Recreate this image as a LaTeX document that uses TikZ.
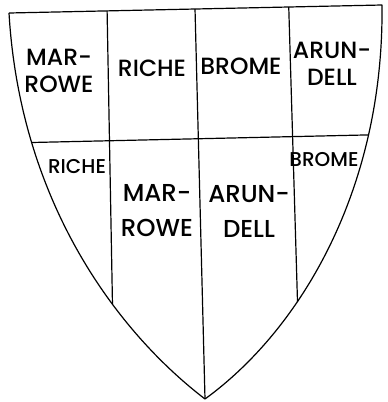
\documentclass[tikz,border=0pt]{standalone}
\usepackage{fontspec}
\setmainfont{Poppins}
\newfontfamily\khienfont{Poppins Medium}
\usetikzlibrary{positioning}

\begin{document}
\begin{tikzpicture}[x=1pt, y=-1pt, line width=1.2pt,
    tenvua/.style={font=\khienfont\fontsize{23.5}{27}\selectfont, align=center, inner sep=0pt},
    tennho/.style={font=\khienfont\fontsize{20}{23}\selectfont, align=center, inner sep=0pt},
    tenlon/.style={font=\khienfont\fontsize{24.5}{35}\selectfont, align=center, inner sep=0pt}]
    \useasboundingbox (0,0) rectangle (388,402);
    % Các đỉnh của khiên
    \coordinate (tl) at (9,13);
    \coordinate (tr) at (382,5);
    \coordinate (tip) at (205,399);

    % Vẽ viền khiên
    \draw[line join=round]
        (tl) -- (tr) coordinate[pos=0.263] (t1) coordinate[pos=0.4987] (t2) coordinate[pos=0.75] (t3)
        .. controls (384,190) and (300,330) .. (tip) coordinate[pos=0.25] (rmid) coordinate[pos=0.65] (rcut)
        .. controls (115,330) and (20,200) .. (tl) coordinate[pos=0.75] (lmid) coordinate[pos=0.35] (lcut);

    % Các đường chia
    \draw (lmid) -- (rmid);
    \draw (t1) -- (lcut);
    \draw (t2) -- (tip);
    \draw (t3) -- (rcut);

    % Hàng trên
    \node[tenvua] (mar1) at (59,71) {MAR-\\ROWE};
    \node[tenvua] (ric1) at (152,68) {RICHE};
    \node[tenvua] (bro1) at (241,66.5) {BROME};
    \node[tenvua] (aru1) at (332,64) {ARUN-\\DELL};

    % Hàng dưới
    \node[tennho] (ric2) at (77,167) {RICHE};
    \node[tenlon] (mar2) at (157,211) {MAR-\\ROWE};
    \node[tenlon] (aru2) at (249,211) {ARUN-\\DELL};
    \node[tennho] (bro2) at (324,160) {BROME};
\end{tikzpicture}
\end{document}
